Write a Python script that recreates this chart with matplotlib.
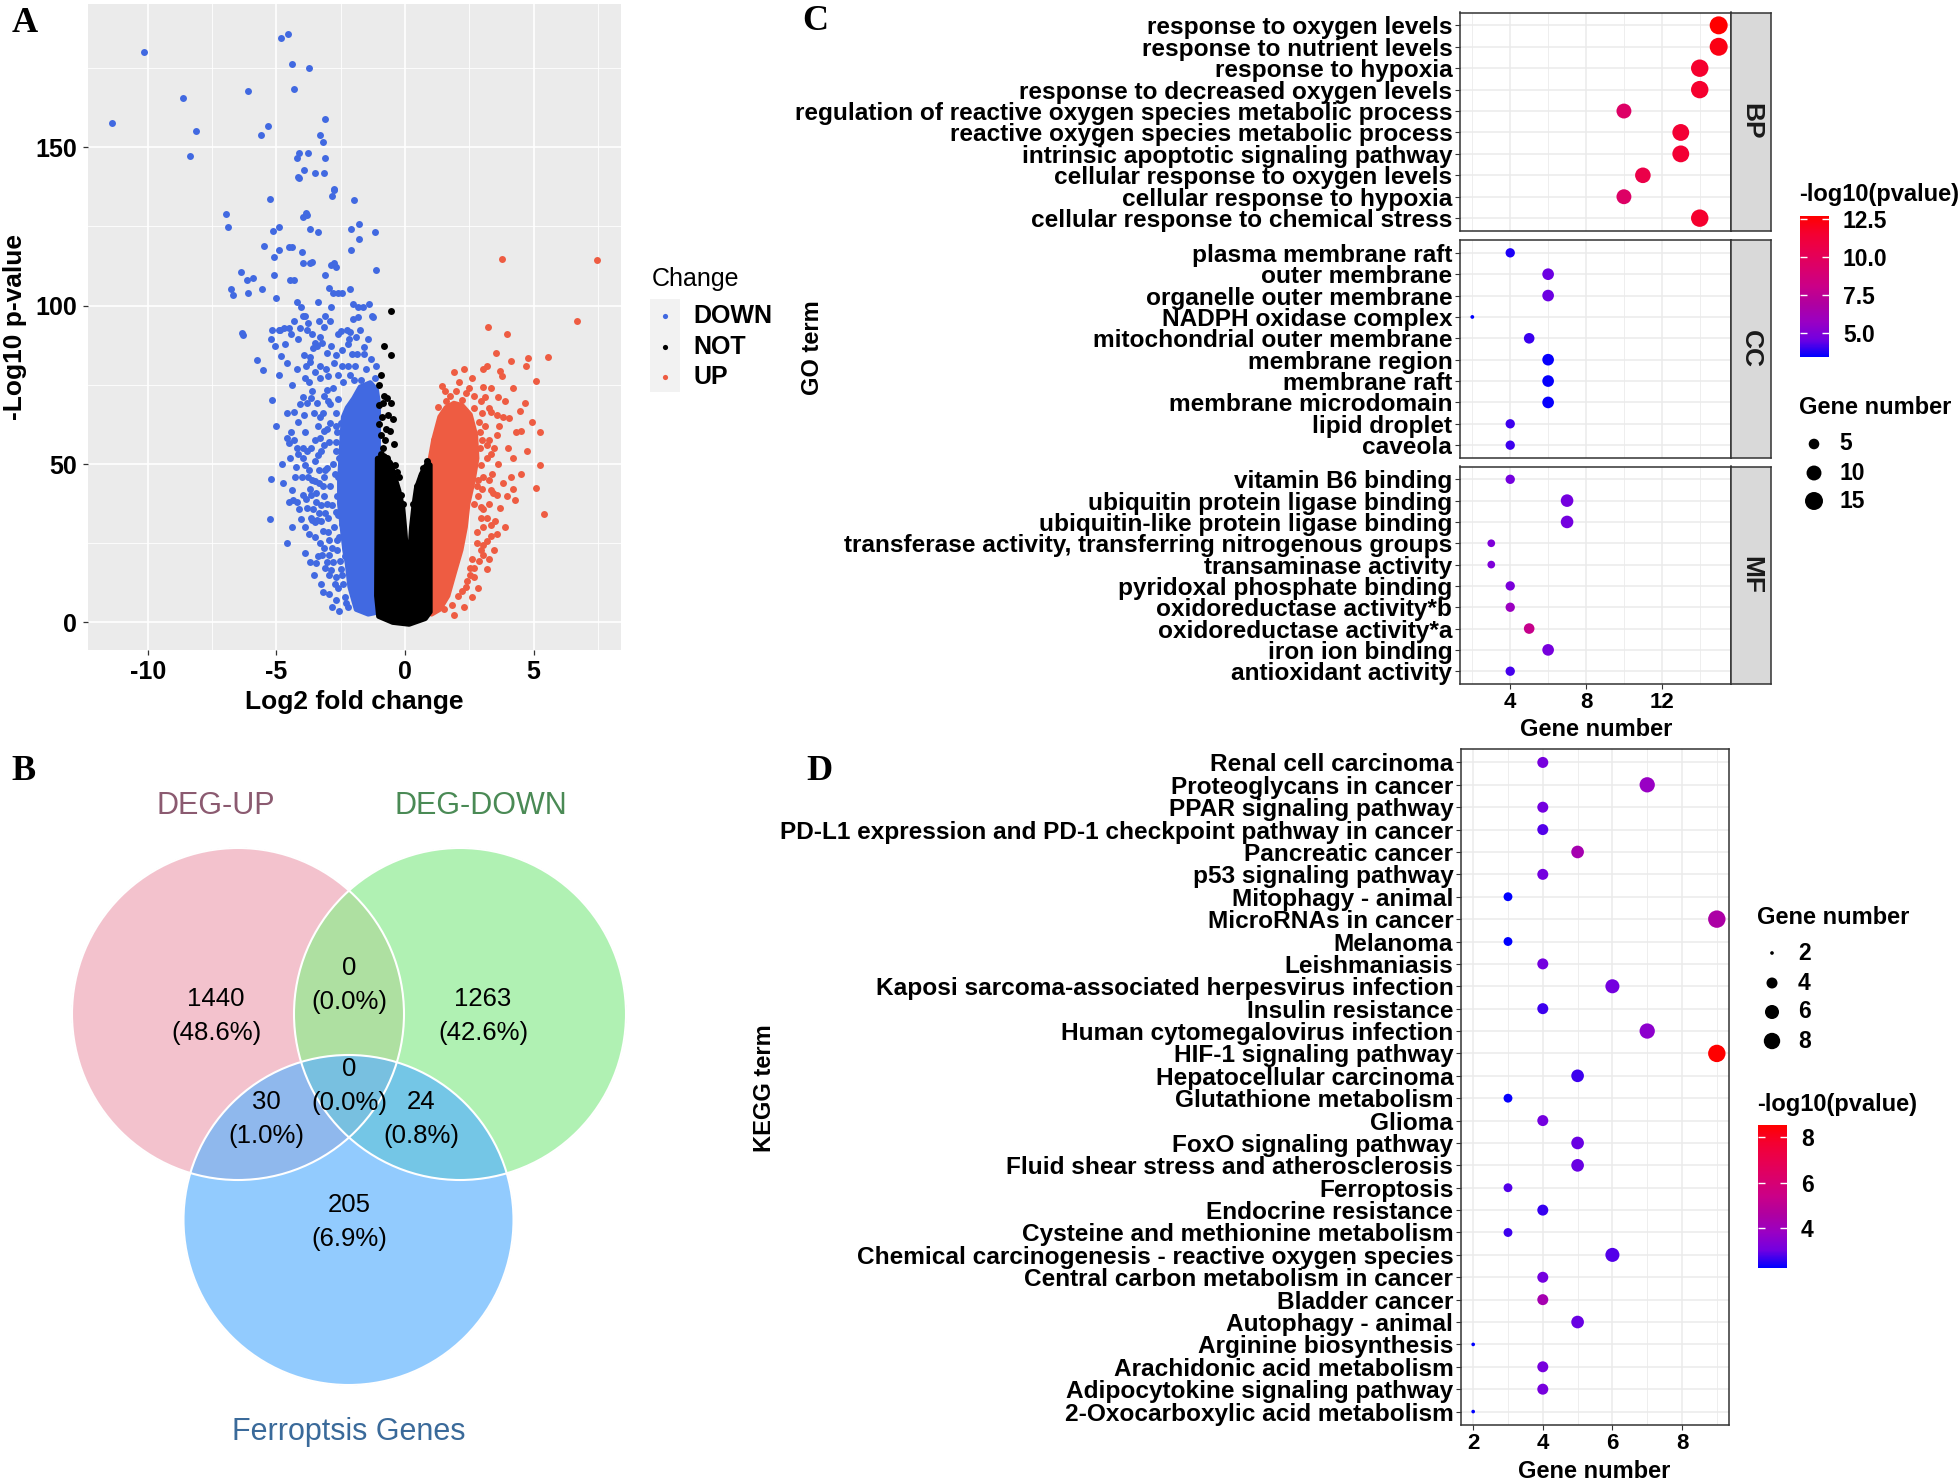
"""Four-panel figure: volcano plot, Venn diagram, GO and KEGG dot plots."""

import numpy as np
import matplotlib
matplotlib.use("Agg")
import matplotlib.pyplot as plt
from matplotlib.colors import LinearSegmentedColormap, Normalize, to_rgba
from matplotlib.cm import ScalarMappable
from matplotlib.patches import Circle

plt.rcParams["axes.unicode_minus"] = False

W, H = 1960, 1484
SANS = "Liberation Sans"
SERIF = "Liberation Serif"

# ---------- data: panel A (log2FC, -log10 p) --------------------------------
DOWN_PTS = [
    (-11.40, 157.5), (-10.16, 180.0), (-8.65, 165.6), (-8.13, 155.1), (-8.37, 147.1),
    (-6.95, 129.0), (-6.89, 124.9), (-6.38, 110.5), (-6.75, 105.1), (-6.70, 103.4),
    (-6.11, 167.7), (-6.13, 108.0), (-6.11, 104.0), (-6.35, 91.4), (-6.29, 90.8),
    (-5.90, 108.6), (-5.62, 153.8), (-5.33, 156.7), (-5.56, 105.1), (-5.48, 118.9),
    (-5.24, 133.6), (-5.75, 82.8), (-5.54, 79.6), (-5.17, 70.2), (-5.21, 45.3),
    (-5.24, 32.7), (-4.83, 184.6), (-4.56, 185.8), (-4.41, 176.3), (-4.32, 168.5),
    (-3.73, 174.9), (-5.16, 92.4), (-4.92, 92.4), (-4.70, 92.8), (-5.13, 123.5),
    (-4.92, 124.9), (-5.08, 115.5), (-4.89, 117.7), (-4.51, 118.4), (-4.41, 118.4),
    (-4.49, 108.0), (-5.08, 109.8), (-5.03, 102.5), (-4.87, 92.4), (-5.21, 89.5),
    (-5.05, 87.3), (-4.83, 84.0), (-4.68, 88.0), (-4.51, 92.8), (-4.44, 90.9),
    (-4.32, 108.0), (-4.21, 101.1), (-4.05, 99.6), (-3.89, 96.7), (-3.81, 92.4),
    (-3.76, 94.5), (-4.33, 95.0), (-4.08, 93.0), (-3.97, 96.7), (-4.16, 89.5),
    (-3.94, 84.4), (-3.68, 83.7), (-3.51, 88.3), (-3.37, 101.1), (-3.33, 95.3),
    (-3.17, 93.1), (-3.10, 96.7), (-2.89, 99.6), (-2.81, 104.0), (-2.46, 104.0),
    (-2.97, 105.7), (-3.10, 109.8), (-2.89, 112.9), (-2.78, 113.4), (-2.70, 112.2),
    (-2.62, 104.0), (-2.13, 105.4), (-2.03, 100.5), (-1.84, 99.6), (-2.03, 95.7),
    (-1.62, 99.6), (-1.40, 100.5), (-1.29, 96.7), (-1.25, 96.4), (-1.83, 96.4),
    (-1.75, 92.4), (-2.14, 91.6), (-2.24, 92.4), (-2.19, 89.5), (-2.06, 84.7),
    (-1.86, 84.7), (-1.60, 84.7), (-1.43, 89.5), (-1.33, 83.0), (-1.11, 80.8),
    (-1.16, 77.2), (-1.70, 76.4), (-1.97, 76.4), (-2.22, 80.8), (-2.46, 80.8),
    (-2.70, 84.4), (-2.86, 87.3), (-3.21, 88.2), (-3.41, 87.2), (-3.56, 86.6),
    (-3.70, 82.2), (-3.87, 80.8), (-3.30, 80.8), (-3.06, 80.1), (-2.98, 77.9),
    (-3.02, 73.5), (-3.17, 71.4), (-3.41, 69.2), (-3.65, 70.7), (-3.81, 69.2),
    (-3.94, 65.6), (-4.16, 63.4), (-4.32, 66.3), (-4.60, 58.3), (-4.52, 56.5),
    (-4.32, 57.6), (-4.48, 51.8), (-4.16, 53.3), (-3.97, 51.8), (-3.81, 54.0),
    (-3.49, 57.6), (-3.29, 58.3), (-3.17, 60.5), (-3.89, 49.7), (-3.78, 46.0),
    (-3.49, 44.6), (-3.17, 46.0), (-3.02, 48.9), (-4.29, 45.8), (-4.41, 41.7),
    (-4.37, 38.8), (-4.41, 30.1), (-4.13, 35.9), (-3.97, 40.2), (-3.65, 40.2),
    (-3.57, 35.9), (-3.33, 34.5), (-3.41, 32.3), (-3.10, 34.5), (-3.02, 37.4),
    (-3.62, 32.3), (-3.52, 31.6), (-4.05, 32.7), (-3.46, 18.8), (-3.17, 23.6),
    (-3.24, 21.4), (-2.94, 21.4), (-3.10, 17.1), (-2.89, 16.4), (-2.70, 14.2),
    (-2.73, 12.0), (-2.54, 19.3), (-2.10, 124.2), (-1.79, 125.7), (-1.78, 121.0),
    (-1.17, 123.1), (-1.11, 111.2), (-2.10, 117.7), (-1.97, 133.3), (-2.75, 136.8),
    (-2.84, 134.6), (-3.14, 141.9), (-3.10, 146.5), (-3.19, 151.7), (-3.30, 153.8),
    (-3.13, 159.0), (-2.76, 136.5), (-3.79, 148.3), (-4.19, 146.5), (-4.14, 148.3),
    (-3.94, 142.8), (-3.52, 142.0), (-4.14, 140.4), (-4.17, 140.7), (-3.95, 128.1),
    (-3.81, 128.6), (-3.84, 129.3), (-3.70, 124.2), (-3.38, 123.2), (-4.00, 117.0),
    (-3.97, 113.4), (-3.62, 113.8), (-3.70, 113.4),
    (-2.60, 78.0), (-2.80, 74.0), (-3.00, 70.0), (-2.70, 66.0), (-2.90, 63.0),
    (-3.20, 66.0), (-3.40, 62.0), (-2.65, 60.0), (-2.95, 57.0), (-3.25, 54.0),
    (-2.70, 54.0), (-3.50, 51.0), (-2.80, 50.0), (-3.10, 48.0), (-2.60, 46.0),
    (-3.35, 44.0), (-2.90, 43.0), (-3.70, 42.0), (-2.65, 40.0), (-3.15, 40.0),
    (-2.85, 37.0), (-3.45, 38.0), (-2.60, 34.0), (-3.00, 33.0), (-3.80, 36.0),
    (-2.75, 30.0), (-3.20, 29.0), (-2.55, 27.0), (-2.95, 26.0), (-3.50, 27.0),
    (-2.65, 23.0), (-2.80, 19.0), (-3.30, 25.0), (-2.45, 15.0), (-2.60, 11.0),
    (-2.35, 8.0), (-2.90, 69.0), (-3.60, 73.0), (-3.30, 77.0), (-2.75, 82.0),
    (-2.45, 86.0), (-2.20, 88.0), (-1.90, 90.0), (-2.60, 91.0), (-3.05, 85.0),
    (-3.90, 60.0), (-4.00, 46.0), (-4.20, 55.0), (-3.95, 71.0), (-4.40, 75.0),
    (-4.60, 66.0), (-4.80, 50.0), (-4.50, 38.0), (-3.75, 28.0), (-3.90, 22.0),
    (-3.55, 15.0), (-3.25, 12.0), (-2.95, 9.0), (-2.70, 7.0), (-2.50, 63.0),
    (-2.55, 52.0), (-2.50, 41.0), (-2.45, 31.0), (-2.35, 21.0), (-2.20, 5.0),
    (-2.62, 70.5), (-2.70, 62.0), (-2.68, 57.0), (-2.72, 47.0), (-2.70, 35.0),
    (-2.65, 26.0), (-2.50, 17.0), (-2.40, 12.0), (-2.30, 6.0), (-2.55, 3.5),
    (-3.05, 61.0), (-3.30, 65.0), (-3.55, 66.0), (-3.15, 56.0), (-3.40, 53.0),
    (-3.65, 55.0), (-3.75, 48.0), (-3.95, 55.0), (-3.60, 45.0), (-3.35, 48.0),
    (-3.20, 43.0), (-3.45, 41.0), (-3.85, 39.0), (-3.25, 37.0), (-3.65, 33.0),
    (-3.90, 30.0), (-4.20, 38.0), (-4.25, 49.0), (-4.45, 60.0), (-4.10, 69.0),
    (-3.75, 76.0), (-3.50, 79.0), (-3.90, 77.0), (-4.20, 80.0), (-4.60, 82.0),
    (-4.90, 78.0), (-5.00, 62.0), (-4.75, 44.0), (-4.60, 25.0), (-3.00, 28.5),
    (-3.25, 32.0), (-2.95, 15.0), (-3.40, 21.0), (-3.70, 19.0), (-3.05, 19.0),
    (-2.85, 23.5), (-3.20, 9.5), (-2.85, 5.0), (-2.50, 92.0), (-2.90, 95.0),
    (-3.30, 90.0), (-3.60, 91.0), (-1.50, 80.0), (-1.95, 81.0), (-2.40, 76.0),
    (-2.15, 78.0), (-1.60, 87.0),
]
UP_PTS = [
    (3.78, 114.7), (7.46, 114.4), (6.67, 95.3), (3.22, 93.2), (3.97, 90.9),
    (1.90, 79.0), (1.43, 74.6), (3.05, 80.1), (3.17, 80.8), (3.71, 79.3),
    (3.78, 77.9), (4.13, 82.5), (4.79, 83.4), (4.70, 80.8), (5.56, 83.7),
    (4.21, 74.0), (5.11, 76.2), (3.02, 74.3), (2.70, 71.4), (2.38, 72.4),
    (3.25, 67.8), (3.33, 66.3), (3.57, 65.6), (3.81, 64.9), (4.05, 64.6),
    (4.65, 69.2), (4.49, 66.6), (4.92, 63.4), (4.52, 60.5), (5.24, 60.2),
    (4.73, 54.0), (4.13, 45.8), (5.24, 49.7), (5.08, 42.4), (4.21, 42.0),
    (4.29, 38.8), (5.40, 34.2), (3.33, 41.7), (3.41, 41.0), (3.57, 40.2),
    (3.25, 37.4), (3.02, 35.9), (3.17, 33.0), (3.33, 30.8), (3.57, 27.9),
    (3.33, 27.2), (3.17, 25.8), (2.94, 22.9), (3.02, 21.4), (2.86, 19.3),
    (2.70, 17.1), (2.54, 14.9), (2.38, 11.3), (2.06, 8.4), (1.83, 5.5),
    (1.51, 4.1), (3.02, 24.3), (3.25, 20.0), (2.70, 14.2), (2.94, 49.7),
    (3.02, 46.0), (3.17, 51.8), (3.33, 53.3), (3.25, 57.6), (3.57, 59.1),
    (3.10, 62.0), (2.86, 63.4), (2.70, 67.8), (2.22, 70.2), (1.75, 71.4),
    (1.59, 69.9), (1.11, 57.6), (2.78, 28.7), (3.02, 30.1), (2.94, 33.0),
    (2.70, 37.4), (2.78, 43.1), (2.54, 17.1), (2.90, 55.0), (2.85, 40.0),
    (2.90, 60.0), (3.00, 66.0), (2.85, 45.0), (2.60, 20.0), (2.40, 13.0),
    (2.20, 10.0), (3.40, 47.0), (3.60, 50.0), (3.70, 36.0), (3.90, 30.0),
    (3.45, 23.0), (4.00, 55.0), (3.90, 70.0), (2.95, 70.0), (2.50, 74.0),
    (2.00, 73.0), (3.10, 71.0), (3.35, 74.0), (3.60, 71.0), (3.20, 56.0),
    (3.45, 55.0), (3.00, 42.0), (3.25, 45.0), (3.50, 32.0), (3.20, 17.0),
    (2.85, 11.0), (2.60, 8.0), (2.30, 5.0), (1.90, 2.5), (3.80, 44.0),
    (3.65, 62.0), (4.30, 60.0), (4.20, 52.0), (3.95, 40.0), (4.50, 47.0),
    (3.00, 57.5), (2.95, 36.5), (2.80, 25.0), (1.30, 68.0), (1.55, 73.0),
    (2.10, 76.0), (2.60, 77.0), (3.55, 85.0), (2.30, 80.0),
]
NOT_PTS = [
    (-0.56, 98.2), (-0.83, 87.3), (-0.56, 84.4), (-0.95, 78.2), (-0.83, 71.4),
    (-0.71, 70.7), (-0.87, 69.2), (-1.03, 68.5), (-0.56, 69.2), (-0.67, 65.6),
    (-0.48, 64.1), (-0.60, 60.5), (-0.44, 56.2), (-0.79, 57.6), (-0.95, 59.1),
    (-1.03, 62.7), (-0.71, 51.8), (-0.40, 49.7), (-0.32, 47.5), (-0.24, 46.0),
    (-0.63, 44.6), (-0.16, 40.2), (-0.08, 37.4), (0.87, 51.1), (0.79, 47.5),
    (0.63, 46.0), (0.71, 48.9), (0.48, 43.1), (0.32, 37.4), (0.40, 31.6),
    (-0.95, 53.3), (-0.87, 55.0), (-1.00, 75.0), (-0.90, 65.0), (-0.75, 61.0),
]
# outlines of the saturated (fully overplotted) cores of each group
DOWN_CORE = [
    (-1.03, 69.2), (-1.03, 3.3), (-1.43, 2.6), (-1.90, 4.1), (-2.05, 8.4),
    (-2.15, 11.3), (-2.25, 18.5), (-2.35, 22.9), (-2.45, 30.1), (-2.55, 37.4),
    (-2.55, 44.6), (-2.50, 51.8), (-2.45, 59.1), (-2.40, 64.9), (-2.25, 67.8),
    (-2.00, 70.7), (-1.75, 74.3), (-1.35, 75.7), (-1.11, 73.5),
]
NOT_CORE = [
    (-1.08, 51.8), (-0.79, 52.6), (-0.56, 50.4), (-0.40, 46.0), (-0.24, 41.7),
    (-0.08, 35.9), (0.00, 28.7), (0.08, 20.0), (0.13, 15.6), (0.19, 22.9),
    (0.25, 30.1), (0.35, 37.4), (0.44, 42.4), (0.63, 46.8), (0.87, 50.4),
    (0.98, 49.7), (0.98, 3.3), (0.79, 1.2), (0.16, -0.6), (-0.48, 0.0),
    (-1.03, 1.9), (-1.11, 8.4),
]
UP_CORE = [
    (0.95, 50.4), (1.11, 57.6), (1.35, 64.9), (1.59, 67.8), (1.90, 69.2),
    (2.22, 68.5), (2.54, 65.6), (2.75, 59.1), (2.80, 51.8), (2.65, 44.6),
    (2.45, 37.4), (2.35, 30.1), (2.18, 22.9), (1.92, 15.6), (1.67, 8.4),
    (1.35, 4.1), (1.03, 2.6),
]

# ---------- data: panel B ---------------------------------------------------
VENN_SETS = ["DEG-UP", "DEG-DOWN", "Ferroptsis Genes"]
VENN_COUNTS = {"A": 1440, "B": 1263, "C": 205, "AB": 0, "AC": 30, "BC": 24, "ABC": 0}
VENN_TOTAL = 2962

# ---------- data: panel C (GO) ---------------------------------------------
BP_TERMS = ["response to oxygen levels", "response to nutrient levels",
            "response to hypoxia", "response to decreased oxygen levels",
            "regulation of reactive oxygen species metabolic process",
            "reactive oxygen species metabolic process",
            "intrinsic apoptotic signaling pathway",
            "cellular response to oxygen levels", "cellular response to hypoxia",
            "cellular response to chemical stress"]
BP_COUNT = [15, 15, 14, 14, 10, 13, 13, 11, 10, 14]
BP_LOGP = [12.7, 12.2, 11.6, 11.6, 9.5, 11.4, 11.4, 10.6, 9.5, 11.6]
CC_TERMS = ["plasma membrane raft", "outer membrane", "organelle outer membrane",
            "NADPH oxidase complex", "mitochondrial outer membrane",
            "membrane region", "membrane raft", "membrane microdomain",
            "lipid droplet", "caveola"]
CC_COUNT = [4, 6, 6, 2, 5, 6, 6, 6, 4, 4]
CC_LOGP = [3.7, 4.5, 4.5, 3.4, 4.0, 3.5, 3.5, 3.5, 4.05, 4.05]
MF_TERMS = ["vitamin B6 binding", "ubiquitin protein ligase binding",
            "ubiquitin-like protein ligase binding",
            "transferase activity, transferring nitrogenous groups",
            "transaminase activity", "pyridoxal phosphate binding",
            "oxidoreductase activity*b", "oxidoreductase activity*a",
            "iron ion binding", "antioxidant activity"]
MF_COUNT = [4, 7, 7, 3, 3, 4, 4, 5, 6, 4]
MF_LOGP = [4.6, 4.6, 4.6, 4.9, 4.9, 4.8, 5.8, 7.9, 4.7, 4.1]

# ---------- data: panel D (KEGG) -------------------------------------------
KEGG_TERMS = ["Renal cell carcinoma", "Proteoglycans in cancer",
              "PPAR signaling pathway",
              "PD-L1 expression and PD-1 checkpoint pathway in cancer",
              "Pancreatic cancer", "p53 signaling pathway", "Mitophagy - animal",
              "MicroRNAs in cancer", "Melanoma", "Leishmaniasis",
              "Kaposi sarcoma-associated herpesvirus infection",
              "Insulin resistance", "Human cytomegalovirus infection",
              "HIF-1 signaling pathway", "Hepatocellular carcinoma",
              "Glutathione metabolism", "Glioma", "FoxO signaling pathway",
              "Fluid shear stress and atherosclerosis", "Ferroptosis",
              "Endocrine resistance", "Cysteine and methionine metabolism",
              "Chemical carcinogenesis - reactive oxygen species",
              "Central carbon metabolism in cancer", "Bladder cancer",
              "Autophagy - animal", "Arginine biosynthesis",
              "Arachidonic acid metabolism", "Adipocytokine signaling pathway",
              "2-Oxocarboxylic acid metabolism"]
KEGG_COUNT = [4, 7, 4, 4, 5, 4, 3, 9, 3, 4, 6, 4, 7, 9, 5,
              3, 4, 5, 5, 3, 4, 3, 6, 4, 4, 5, 2, 4, 4, 2]
KEGG_LOGP = [3.12, 3.81, 3.06, 2.81, 4.25, 3.06, 2.26, 4.5, 2.26, 3.06,
             3.06, 2.68, 3.56, 8.53, 2.68, 2.30, 3.06, 2.96, 2.96, 2.81,
             2.62, 2.68, 2.81, 3.06, 4.25, 2.96, 2.24, 3.12, 3.12, 2.24]

# ---------- style -----------------------------------------------------------
BLUE, BLACK, RED = "#4169E1", "#000000", "#EE5C42"
GRID_GREY = "#EBEBEB"
DARK = "#333333"
TERM_SIZE = 17.6
# blue -> red interpolated in Lab, as ggplot's gradient does
CMAP = LinearSegmentedColormap.from_list("lab_blue_red", [
    "#0000FF", "#7300E0", "#9A00C3", "#AF00A0", "#CA0088",
    "#DA006C", "#E80050", "#F40031", "#FF0000"])


def fbox(l, t, r, b):
    return [l / W, 1 - b / H, (r - l) / W, (b - t) / H]


def ftext(fig, x, y, s, **kw):
    return fig.text(x / W, 1 - y / H, s, **kw)


def dot_area(counts, lo, hi, unit_px):
    # area scale with range 1..6 plus the point stroke, like ggplot's size scale
    v = np.asarray(counts, float)
    diam = unit_px * (1.33 + 5 * np.sqrt((v - lo) / (hi - lo)))
    return (diam * 0.72) ** 2


# ---------- panel A ---------------------------------------------------------
def draw_volcano(fig):
    ax = fig.add_axes(fbox(87.5, 4, 621, 650))
    ax.set_facecolor(GRID_GREY)
    ax.set_xlim(-12.35, 8.4)
    ax.set_ylim(-8.7, 195.2)
    ax.set_xticks([-10, -5, 0, 5])
    ax.set_xticks([-7.5, -2.5, 2.5, 7.5], minor=True)
    ax.set_yticks([0, 50, 100, 150])
    ax.set_yticks([25, 75, 125, 175], minor=True)
    ax.grid(which="major", color="white", lw=1.2)
    ax.grid(which="minor", color="white", lw=0.6)
    ax.set_axisbelow(True)
    for s in ax.spines.values():
        s.set_visible(False)
    ax.tick_params(which="minor", length=0)
    ax.tick_params(which="major", length=3.5, color=DARK, width=0.9, pad=4)
    for lab in ax.get_xticklabels() + ax.get_yticklabels():
        lab.set_fontfamily(SANS); lab.set_fontweight("bold"); lab.set_fontsize(18)

    for core, pts, col in ((DOWN_CORE, DOWN_PTS, BLUE), (UP_CORE, UP_PTS, RED),
                           (NOT_CORE, NOT_PTS, BLACK)):
        cx, cy = zip(*core)
        ax.fill(cx, cy, color=col, lw=3.5, joinstyle="round", zorder=2)
        px, py = zip(*pts)
        ax.scatter(px, py, s=25, color=col, lw=0, zorder=3)

    ax.set_xlabel("Log2 fold change", fontfamily=SANS, fontweight="bold",
                  fontsize=19, labelpad=4)
    ax.set_ylabel("-Log10 p-value", fontfamily=SANS, fontweight="bold",
                  fontsize=19, labelpad=6)

    # legend
    ftext(fig, 652, 279, "Change", fontfamily=SANS, fontsize=18, va="center")
    key = fig.add_axes(fbox(650, 299, 680, 392))
    key.set_facecolor("#F2F2F2")
    key.set_xlim(0, 1); key.set_ylim(392, 299)
    key.set_xticks([]); key.set_yticks([])
    for s in key.spines.values():
        s.set_visible(False)
    for yk, col, lab in ((316, BLUE, "DOWN"), (347, BLACK, "NOT"), (377, RED, "UP")):
        key.scatter([0.5], [yk], s=14, color=col, lw=0)
        ftext(fig, 693, yk, lab, fontfamily=SANS, fontweight="bold",
              fontsize=18, va="center")


# ---------- panel B ---------------------------------------------------------
def draw_venn(fig):
    ax = fig.add_axes(fbox(0, 740, 640, 1484))
    ax.set_xlim(0, 640); ax.set_ylim(1484, 740)
    ax.axis("off")
    centers = {"A": (238, 1014, 166), "B": (460, 1014, 166), "C": (348.5, 1220, 165)}
    xs = np.arange(0, 640, 0.5) + 0.25
    ys = np.arange(740, 1484, 0.5) + 0.25
    X, Y = np.meshgrid(xs, ys)
    m = {k: (X - cx) ** 2 + (Y - cy) ** 2 <= r ** 2 for k, (cx, cy, r) in centers.items()}
    img = np.zeros(X.shape + (4,))
    regions = [
        (m["A"] & ~m["B"] & ~m["C"], "#F3C2CD"),
        (m["B"] & ~m["A"] & ~m["C"], "#B0F2B4"),
        (m["C"] & ~m["A"] & ~m["B"], "#92CBFE"),
        (m["A"] & m["B"] & ~m["C"], "#AEE0A1"),
        (m["A"] & m["C"] & ~m["B"], "#8FB9EE"),
        (m["B"] & m["C"] & ~m["A"], "#75C6E6"),
        (m["A"] & m["B"] & m["C"], "#78C0E0"),
    ]
    for mask, col in regions:
        img[mask] = to_rgba(col)
    ax.imshow(img, extent=(0, 640, 1484, 740), interpolation="antialiased")
    for cx, cy, r in centers.values():
        ax.add_patch(Circle((cx, cy), r, fill=False, ec="white", lw=1.5))

    def pct(n):
        return f"{n}\n({100 * n / VENN_TOTAL:.1f}%)"
    spots = {"A": (216, 1016), "B": (483, 1016), "AB": (349, 985),
             "ABC": (349, 1086), "AC": (266, 1119), "BC": (421, 1119),
             "C": (349, 1222)}
    for k, (x, y) in spots.items():
        ax.text(x, y, pct(VENN_COUNTS[k]), ha="center", va="center",
                fontfamily=SANS, fontsize=18.5, linespacing=1.5)
    ax.text(216, 806, VENN_SETS[0], ha="center", va="center", fontfamily=SANS,
            fontsize=22, color="#8B5A70")
    ax.text(481, 806, VENN_SETS[1], ha="center", va="center", fontfamily=SANS,
            fontsize=22, color="#4A8A55")
    ax.text(349, 1432, VENN_SETS[2], ha="center", va="center", fontfamily=SANS,
            fontsize=22, color="#3A6A9A")


# ---------- dot-plot helpers ------------------------------------------------
def style_dot_axes(ax, terms, show_x):
    n = len(terms)
    ax.set_ylim(n - 0.4, -0.6)
    ax.set_yticks(np.arange(n))
    ax.set_yticklabels(terms, fontfamily=SANS, fontweight="bold",
                       fontsize=TERM_SIZE)
    ax.grid(which="major", color=GRID_GREY, lw=1.1)
    ax.grid(which="minor", axis="x", color=GRID_GREY, lw=0.6)
    ax.set_axisbelow(True)
    for s in ax.spines.values():
        s.set_color(DARK); s.set_linewidth(1.1)
    ax.tick_params(which="major", length=3.5, color=DARK, width=0.8, pad=2)
    ax.tick_params(which="minor", length=0)
    if show_x:
        for lab in ax.get_xticklabels():
            lab.set_fontfamily(SANS); lab.set_fontweight("bold"); lab.set_fontsize(16)
    else:
        ax.tick_params(axis="x", which="both", bottom=False, labelbottom=False)


def colorbar(fig, cax, norm, ticks, labels):
    cb = fig.colorbar(ScalarMappable(norm=norm, cmap=CMAP), cax=cax)
    cb.outline.set_visible(False)
    cb.set_ticks(ticks)
    cb.set_ticklabels(labels)
    cax.tick_params(left=True, right=True, direction="in", color="white",
                    length=5, width=1.0, pad=10)
    for lab in cax.get_yticklabels():
        lab.set_fontfamily(SANS); lab.set_fontweight("bold"); lab.set_fontsize(16.5)


def size_key(fig, values, ys, x_dot, x_lab, lo, hi, unit):
    kax = fig.add_axes([0, 0, 1, 1])
    kax.set_xlim(0, W); kax.set_ylim(H, 0)
    kax.axis("off")
    kax.scatter([x_dot] * len(values), ys, s=dot_area(values, lo, hi, unit),
                color="black", lw=0)
    for v, y in zip(values, ys):
        ftext(fig, x_lab, y, str(v), va="center", fontfamily=SANS,
              fontweight="bold", fontsize=16.5)


def draw_go(fig):
    norm = Normalize(3.4, 12.7)
    facets = [(BP_TERMS, BP_COUNT, BP_LOGP, "BP", 12.5, 231),
              (CC_TERMS, CC_COUNT, CC_LOGP, "CC", 240, 458),
              (MF_TERMS, MF_COUNT, MF_LOGP, "MF", 466.5, 684)]
    for terms, counts, logp, strip, top, bot in facets:
        ax = fig.add_axes(fbox(1460, top, 1731, bot))
        ax.scatter(counts, np.arange(len(terms)), s=dot_area(counts, 2, 15, 2.84),
                   c=logp, cmap=CMAP, norm=norm, lw=0, zorder=3)
        ax.set_xlim(1.35, 15.65)
        ax.set_xticks([4, 8, 12])
        ax.set_xticks([2, 6, 10, 14], minor=True)
        style_dot_axes(ax, terms, strip == "MF")
        sax = fig.add_axes(fbox(1731, top, 1771, bot))
        sax.set_facecolor("#D9D9D9")
        sax.set_xticks([]); sax.set_yticks([])
        for s in sax.spines.values():
            s.set_color(DARK); s.set_linewidth(1.1)
        sax.text(0.5, 0.5, strip, rotation=-90, ha="center", va="center",
                 transform=sax.transAxes, fontfamily=SANS, fontweight="bold",
                 fontsize=19, color="#1A1A1A")

    ftext(fig, 1596, 730, "Gene number", ha="center", va="center",
          fontfamily=SANS, fontweight="bold", fontsize=17)
    ftext(fig, 812, 348, "GO term", ha="center", va="center", rotation=90,
          fontfamily=SANS, fontweight="bold", fontsize=17)

    # legends
    ftext(fig, 1799, 194, "-log10(pvalue)", va="center", fontfamily=SANS,
          fontweight="bold", fontsize=17)
    cax = fig.add_axes(fbox(1800, 216, 1829, 357))
    colorbar(fig, cax, norm, [5, 7.5, 10, 12.5], ["5.0", "7.5", "10.0", "12.5"])
    ftext(fig, 1799, 407, "Gene number", va="center", fontfamily=SANS,
          fontweight="bold", fontsize=17)
    size_key(fig, [5, 10, 15], [444, 473, 501], 1814, 1839, 2, 15, 2.84)


# ---------- panel D ---------------------------------------------------------
def draw_kegg(fig):
    norm = Normalize(2.24, 8.53)
    ax = fig.add_axes(fbox(1461, 749, 1729, 1425))
    ax.scatter(KEGG_COUNT, np.arange(len(KEGG_TERMS)),
               s=dot_area(KEGG_COUNT, 2, 9, 2.75), c=KEGG_LOGP, cmap=CMAP,
               norm=norm, lw=0, zorder=3)
    ax.set_xlim(1.65, 9.35)
    ax.set_xticks([2, 4, 6, 8])
    ax.set_xticks([3, 5, 7, 9], minor=True)
    style_dot_axes(ax, KEGG_TERMS, True)

    ftext(fig, 1594, 1471, "Gene number", ha="center", va="center",
          fontfamily=SANS, fontweight="bold", fontsize=17)
    ftext(fig, 764, 1088, "KEGG term", ha="center", va="center", rotation=90,
          fontfamily=SANS, fontweight="bold", fontsize=17)

    ftext(fig, 1757, 918, "Gene number", va="center", fontfamily=SANS,
          fontweight="bold", fontsize=17)
    size_key(fig, [2, 4, 6, 8], [953, 983, 1012, 1041], 1772, 1798, 2, 9, 2.75)
    ftext(fig, 1757, 1105, "-log10(pvalue)", va="center", fontfamily=SANS,
          fontweight="bold", fontsize=17)
    cax = fig.add_axes(fbox(1758, 1125, 1787, 1268))
    colorbar(fig, cax, norm, [4, 6, 8], ["4", "6", "8"])


def main():
    fig = plt.figure(figsize=(W / 100, H / 100), dpi=100)
    fig.patch.set_facecolor("white")
    draw_volcano(fig)
    draw_venn(fig)
    draw_go(fig)
    draw_kegg(fig)
    for x, y, s in ((25, 24, "A"), (24, 772, "B"), (815, 22, "C"), (819, 771, "D")):
        ftext(fig, x, y, s, ha="center", va="center", fontfamily=SERIF,
              fontweight="bold", fontsize=26)
    fig.savefig("out.png", dpi=100, facecolor="white")


if __name__ == "__main__":
    main()
